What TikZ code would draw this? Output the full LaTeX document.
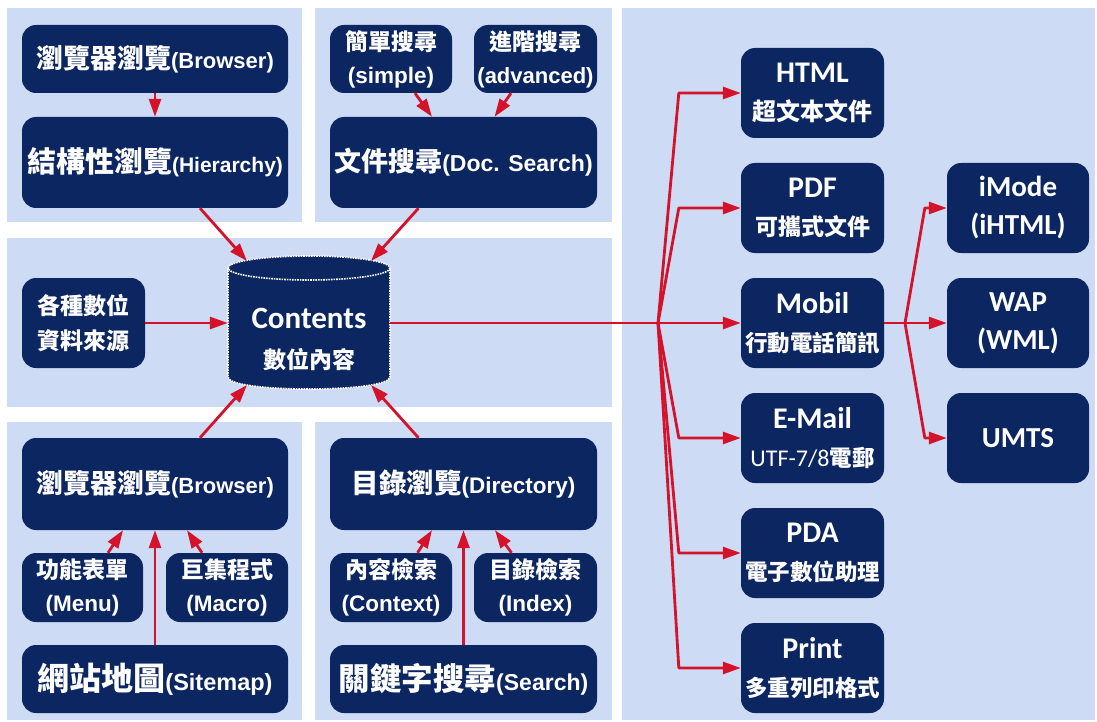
\documentclass[tikz,border=0pt]{standalone}
\usepackage{fontspec}
\setmainfont{Liberation Sans}
\newfontfamily\cjk{Noto Sans CJK TC}
\newfontfamily\calf{Carlito}
\usetikzlibrary{arrows.meta}
\definecolor{navy}{RGB}{12,38,98}
\definecolor{panel}{RGB}{206,219,245}
\definecolor{ared}{RGB}{212,18,42}
\newcommand\zh[2]{{\cjk\bfseries\fontsize{#1}{#1}\selectfont #2}}
\newcommand\la[2]{{\bfseries\fontsize{#1}{#1}\selectfont #2}}
\newcommand\cb[2]{{\calf\bfseries\fontsize{#1}{#1}\selectfont #2}}
\begin{document}
\begin{tikzpicture}[x=1pt,y=-1pt,
  box/.style={fill=navy, rounded corners=14pt, text=white, inner sep=0pt, align=center, font=\fontsize{20}{34}\selectfont},
  sz/.style 2 args={minimum width=#1pt, minimum height=#2pt},
  fs/.style={font=\fontsize{20}{#1}\selectfont},
  arr/.style={draw=ared, line width=2.8pt, line join=round, -{Triangle[length=18pt,width=12pt]}},
]
\useasboundingbox (0,0) rectangle (1097,722);
\fill[white] (0,0) rectangle (1097,722);
% panels
\fill[panel] (7,8) rectangle (302,222);
\fill[panel] (315,8) rectangle (612,222);
\fill[panel] (7,238) rectangle (612,407);
\fill[panel] (7,422) rectangle (302,720);
\fill[panel] (315,422) rectangle (612,720);
\fill[panel] (622,8) rectangle (1095,720);

% top-left
\node[box, sz={266}{68}] (b1) at (155,59) {\zh{27}{瀏覽器瀏覽}\la{22}{(Browser)}};
\node[box, sz={266}{91}] (hier) at (155,162.5) {\zh{29}{結構性瀏覽}\la{21}{(Hierarchy)}};
% top-middle
\node[box, sz={122}{68}, fs=33] (simp) at (391,59) {\zh{23}{簡單搜尋}\\\la{22.5}{(simple)}};
\node[box, sz={123}{68}, fs=33] (adv) at (535.5,59) {\zh{23}{進階搜尋}\\\la{22}{(advanced)}};
\node[box, sz={267}{91}] (doc) at (463.5,162.5) {\zh{27}{文件搜尋}\la{23}{(Doc. Search)}};
% middle
\node[box, sz={123}{90}, fs=35] (src) at (83.5,323) {\zh{23}{各種數位}\\\zh{23}{資料來源}};
% cylinder
\fill[navy] (228,268) rectangle (390,377);
\fill[navy] (309,268) ellipse [x radius=81, y radius=12];
\fill[navy] (228,377) .. controls (228,393) and (390,393) .. (390,377) -- cycle;
\draw[white, densely dotted, line width=1.6pt] (309,268) ellipse [x radius=81, y radius=12];
\draw[white, densely dotted, line width=1.6pt] (228,268) -- (228,377) .. controls (228,393) and (390,393) .. (390,377) -- (390,268);
\node[minimum width=162pt, minimum height=134pt, inner sep=0pt] (cont) at (309,323) {};
\node[text=white, align=center, font=\fontsize{20}{40}\selectfont] (ctext) at (309,339) {\cb{31}{Contents}\\\zh{23}{數位內容}};
\coordinate (ctl) at (247,261);
\coordinate (ctr) at (371,261);
\coordinate (cbl) at (247,385);
\coordinate (cbr) at (371,385);
% bottom-left
\node[box, sz={266}{92}] (b2) at (155,484) {\zh{27}{瀏覽器瀏覽}\la{22}{(Browser)}};
\node[box, sz={121}{69}, fs=33] (menu) at (82.5,587.5) {\zh{23}{功能表單}\\\la{22.5}{(Menu)}};
\node[box, sz={122}{69}, fs=33] (macro) at (227,587.5) {\zh{23}{巨集程式}\\\la{22.5}{(Macro)}};
\node[box, sz={266}{68}] (site) at (155,679) {\zh{32}{網站地圖}\la{23.5}{(Sitemap)}};
% bottom-middle
\node[box, sz={267}{92}] (dir) at (463.5,484) {\zh{27.5}{目錄瀏覽}\la{22.5}{(Directory)}};
\node[box, sz={122}{69}, fs=33] (ctx) at (391,587.5) {\zh{23}{內容檢索}\\\la{22.5}{(Context)}};
\node[box, sz={123}{69}, fs=33] (idx) at (535.5,587.5) {\zh{23}{目錄檢索}\\\la{22.5}{(Index)}};
\node[box, sz={267}{68}] (srch) at (463.5,679) {\zh{31.5}{關鍵字搜尋}\la{23}{(Search)}};
% right column
\node[box, sz={143}{90}, fs=38] (html) at (812.5,93) {\cb{30}{HTML}\\\zh{24}{超文本文件}};
\node[box, sz={143}{90}, fs=38] (pdf) at (812.5,208) {\cb{30}{PDF}\\\zh{23}{可攜式文件}};
\node[box, sz={143}{90}, fs=38] (mob) at (812.5,323) {\cb{30}{Mobil}\\\zh{22.5}{行動電話簡訊}};
\node[box, sz={143}{90}, fs=38] (mail) at (812.5,438) {\cb{30}{E-Mail}\\{\calf\fontsize{24}{24}\selectfont UTF-7/8}\zh{22.5}{電郵}};
\node[box, sz={143}{90}, fs=38] (pda) at (812.5,553) {\cb{30}{PDA}\\\zh{22.5}{電子數位助理}};
\node[box, sz={143}{90}, fs=38] (prnt) at (812.5,668) {\cb{30}{Print}\\\zh{22.5}{多重列印格式}};
% far right
\node[box, sz={142}{90}, fs=38] (imode) at (1018,208) {\cb{29}{iMode}\\\cb{29}{(iHTML)}};
\node[box, sz={142}{90}, fs=38] (wap) at (1018,323) {\cb{29}{WAP}\\\cb{29}{(WML)}};
\node[box, sz={142}{90}] (umts) at (1018,438) {\cb{29}{UMTS}};

% connectors left
\draw[arr] (b1) -- (hier);
\draw[arr] ([xshift=45pt]hier.south) -- (ctl);
\draw[arr] ([xshift=24pt]simp.south) -- ([xshift=-31.5pt]doc.north);
\draw[arr] ([xshift=-24.5pt]adv.south) -- ([xshift=31pt]doc.north);
\draw[arr] ([xshift=-45pt]doc.south) -- (ctr);
\draw[arr] (src) -- (cont);
\draw[arr] ([xshift=45pt]b2.north) -- (cbl);
\draw[arr] ([xshift=-45pt]dir.north) -- (cbr);
\draw[arr] ([xshift=25.5pt]menu.north) -- ([xshift=-32pt]b2.south);
\draw[arr] ([xshift=-25pt]macro.north) -- ([xshift=32pt]b2.south);
\draw[arr] (site) -- (b2);
\draw[arr] ([xshift=26.5pt]ctx.north) -- ([xshift=-31.5pt]dir.south);
\draw[arr] ([xshift=-24pt]idx.north) -- ([xshift=31.5pt]dir.south);
\draw[arr] (srch) -- (dir);
% connectors right
\coordinate (br1) at (658,323);
\draw[arr] (cont.east) -- (mob.west);
\foreach \n in {html,pdf,mail,pda,prnt}
  \draw[arr] (br1) -- ([xshift=-62pt]\n.west) -- (\n.west);
\coordinate (br2) at (905,323);
\draw[arr] (mob.east) -- (wap.west);
\draw[arr] (br2) -- ([xshift=-22pt]imode.west) -- (imode.west);
\draw[arr] (br2) -- ([xshift=-22pt]umts.west) -- (umts.west);
\end{tikzpicture}
\end{document}
